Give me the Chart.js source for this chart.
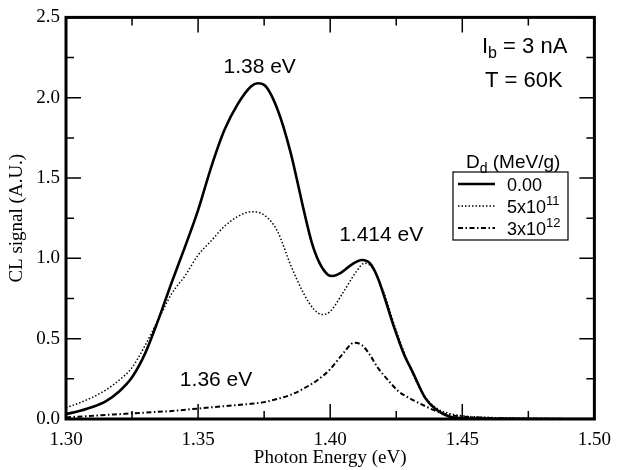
<!DOCTYPE html>
<html>
<head>
<meta charset="utf-8">
<script src="https://cdn.jsdelivr.net/npm/chart.js@4.4.1/dist/chart.umd.min.js"></script>
<style>
  html, body { margin: 0; padding: 0; background: #fff; }
  #wrap { width: 621px; height: 470px; }
</style>
</head>
<body>
<div id="wrap"><canvas id="myChart" width="621" height="470"></canvas></div>
<script>
// photon energy (eV) and CL signal for each dose
const energy0 = [1.300, 1.305, 1.310, 1.315, 1.320, 1.325, 1.330, 1.335, 1.340, 1.345, 1.350, 1.355, 1.360, 1.365, 1.370, 1.3725, 1.375, 1.380, 1.385, 1.390, 1.393, 1.396, 1.399, 1.401, 1.404, 1.408, 1.412, 1.415, 1.418, 1.424, 1.428, 1.431, 1.436, 1.440, 1.445, 1.450, 1.460, 1.500];
const signal0 = [0.03, 0.05, 0.075, 0.11, 0.17, 0.26, 0.41, 0.62, 0.85, 1.07, 1.30, 1.57, 1.80, 1.96, 2.07, 2.09, 2.08, 1.93, 1.66, 1.30, 1.10, 0.97, 0.90, 0.89, 0.91, 0.96, 0.99, 0.97, 0.88, 0.58, 0.40, 0.30, 0.13, 0.06, 0.015, 0.005, 0.002, 0.0];

const energy1 = [1.300, 1.305, 1.310, 1.315, 1.320, 1.325, 1.330, 1.335, 1.340, 1.345, 1.350, 1.355, 1.360, 1.365, 1.370, 1.375, 1.380, 1.385, 1.390, 1.394, 1.397, 1.400, 1.405, 1.410, 1.413, 1.416, 1.420, 1.425, 1.430, 1.435, 1.440, 1.445, 1.450, 1.460, 1.470, 1.500];
const signal1 = [0.07, 0.10, 0.135, 0.18, 0.24, 0.32, 0.46, 0.62, 0.78, 0.89, 1.02, 1.11, 1.20, 1.26, 1.29, 1.27, 1.17, 0.96, 0.78, 0.68, 0.65, 0.67, 0.79, 0.92, 0.97, 0.94, 0.80, 0.55, 0.33, 0.16, 0.07, 0.035, 0.02, 0.01, 0.005, 0.0];

const energy2 = [1.300, 1.310, 1.320, 1.330, 1.340, 1.350, 1.360, 1.370, 1.375, 1.380, 1.385, 1.390, 1.395, 1.400, 1.405, 1.409, 1.412, 1.415, 1.418, 1.422, 1.426, 1.430, 1.436, 1.440, 1.445, 1.450, 1.460, 1.470, 1.500];
const signal2 = [0.01, 0.02, 0.03, 0.04, 0.05, 0.065, 0.08, 0.095, 0.105, 0.125, 0.15, 0.19, 0.24, 0.31, 0.41, 0.475, 0.46, 0.40, 0.32, 0.24, 0.17, 0.13, 0.08, 0.05, 0.025, 0.015, 0.007, 0.003, 0.0];

const doseLabels = ['0.00', '5x10', '3x10'];
const doseExp = ['', '11', '12'];

const xTicks = [1.30, 1.35, 1.40, 1.45, 1.50];
const xTickLabels = ['1.30', '1.35', '1.40', '1.45', '1.50'];
const xMinor = [1.325, 1.375, 1.425, 1.475];
const yTicks = [0.0, 0.5, 1.0, 1.5, 2.0, 2.5];
const yTickLabels = ['0.0', '0.5', '1.0', '1.5', '2.0', '2.5'];
const yMinor = [0.25, 0.75, 1.25, 1.75, 2.25];

// peak labels [text, energy, signal]
const peakNotes = [['1.38 eV', 1.3733, 2.19], ['1.414 eV', 1.4193, 1.145], ['1.36 eV', 1.3568, 0.24]];

function pts(xs, ys) {
    return xs.map((x, i) => ({x: x, y: ys[i]}));
}

const serif = '"Liberation Serif", "Times New Roman", serif';
const sans = '"Liberation Sans", Arial, sans-serif';

const framePlugin = {
    id: 'frame',
    afterDatasetsDraw(chart) {
        const ctx = chart.ctx;
        const a = chart.chartArea;
        const xs = chart.scales.x, ys = chart.scales.y;
        ctx.save();
        ctx.strokeStyle = '#000';
        ctx.lineWidth = 1.5;
        ctx.beginPath();
        xTicks.forEach(v => {
            const p = xs.getPixelForValue(v);
            ctx.moveTo(p, a.bottom); ctx.lineTo(p, a.bottom - 15);
            ctx.moveTo(p, a.top); ctx.lineTo(p, a.top + 15);
        });
        xMinor.forEach(v => {
            const p = xs.getPixelForValue(v);
            ctx.moveTo(p, a.bottom); ctx.lineTo(p, a.bottom - 8);
            ctx.moveTo(p, a.top); ctx.lineTo(p, a.top + 8);
        });
        yTicks.forEach(v => {
            const p = ys.getPixelForValue(v);
            ctx.moveTo(a.left, p); ctx.lineTo(a.left + 15, p);
            ctx.moveTo(a.right, p); ctx.lineTo(a.right - 15, p);
        });
        yMinor.forEach(v => {
            const p = ys.getPixelForValue(v);
            ctx.moveTo(a.left, p); ctx.lineTo(a.left + 8, p);
            ctx.moveTo(a.right, p); ctx.lineTo(a.right - 8, p);
        });
        ctx.stroke();
        ctx.lineWidth = 3;
        ctx.strokeRect(a.left, a.top, a.right - a.left, a.bottom - a.top);

        // peak labels
        ctx.fillStyle = '#000';
        ctx.font = '21px ' + sans;
        ctx.textAlign = 'center';
        ctx.textBaseline = 'middle';
        peakNotes.forEach(n => {
            ctx.fillText(n[0], xs.getPixelForValue(n[1]), ys.getPixelForValue(n[2]));
        });

        // conditions
        ctx.textAlign = 'left';
        ctx.textBaseline = 'alphabetic';
        ctx.font = '22px ' + sans;
        let x0 = 482, y0 = 53;
        ctx.fillText('I', x0, y0);
        x0 += ctx.measureText('I').width;
        ctx.font = '16px ' + sans;
        ctx.fillText('b', x0, y0 + 5);
        x0 += ctx.measureText('b').width;
        ctx.font = '22px ' + sans;
        ctx.fillText(' = 3 nA', x0, y0);
        ctx.fillText('T = 60K', 485, 87);

        // legend
        const lx = 453, ly = 172, lw = 115, lh = 68;
        ctx.lineWidth = 1.2;
        ctx.strokeRect(lx, ly, lw, lh);
        ctx.font = '19px ' + sans;
        let tx = 466;
        ctx.fillText('D', tx, 168);
        tx += ctx.measureText('D').width;
        ctx.font = '14px ' + sans;
        ctx.fillText('d', tx, 173);
        tx += ctx.measureText('d').width;
        ctx.font = '19px ' + sans;
        ctx.fillText(' (MeV/g)', tx, 168);
        const rows = [184, 206, 228];
        chart.data.datasets.forEach((ds, i) => {
            ctx.save();
            ctx.strokeStyle = '#000';
            ctx.lineWidth = ds.borderWidth;
            ctx.setLineDash(ds.borderDash || []);
            ctx.beginPath();
            ctx.moveTo(458, rows[i]); ctx.lineTo(495, rows[i]);
            ctx.stroke();
            ctx.restore();
            ctx.font = '18px ' + sans;
            ctx.fillText(doseLabels[i], 507, rows[i] + 7);
            if (doseExp[i]) {
                const w = ctx.measureText(doseLabels[i]).width;
                ctx.font = '13px ' + sans;
                ctx.fillText(doseExp[i], 507 + w, rows[i] - 1);
            }
        });
        ctx.restore();
    }
};

function loadChart() {
    const ctx = document.getElementById('myChart');

    new Chart(ctx, {
        type: 'line',
        data: {
            datasets: [{
                label: doseLabels[0],
                data: pts(energy0, signal0),
                borderColor: '#000',
                borderWidth: 2.6,
                pointRadius: 0,
                cubicInterpolationMode: 'monotone'
            }, {
                label: doseLabels[1],
                data: pts(energy1, signal1),
                borderColor: '#000',
                borderWidth: 1.5,
                borderDash: [1.5, 2],
                pointRadius: 0,
                cubicInterpolationMode: 'monotone'
            }, {
                label: doseLabels[2],
                data: pts(energy2, signal2),
                borderColor: '#000',
                borderWidth: 2,
                borderDash: [5, 2.5, 1.5, 2.5],
                pointRadius: 0,
                cubicInterpolationMode: 'monotone'
            }]
        },
        options: {
            responsive: false,
            animation: false,
            layout: {
                padding: {left: 0, right: 20, top: 13, bottom: 0}
            },
            plugins: {
                legend: {display: false},
                tooltip: {enabled: false}
            },
            scales: {
                x: {
                    type: 'linear',
                    min: 1.30,
                    max: 1.50,
                    afterBuildTicks: s => { s.ticks = xTicks.map(v => ({value: v})); },
                    afterFit: s => { s.height = 51; },
                    ticks: {
                        callback: (v, i) => xTickLabels[i],
                        color: '#000',
                        padding: 10,
                        maxRotation: 0,
                        font: {size: 19, family: serif}
                    },
                    grid: {display: false, drawTicks: false},
                    border: {display: false},
                    title: {
                        display: true,
                        text: 'Photon Energy (eV)',
                        color: '#000',
                        padding: {top: 0, bottom: 1},
                        font: {size: 19, family: serif}
                    }
                },
                y: {
                    type: 'linear',
                    min: 0,
                    max: 2.5,
                    afterBuildTicks: s => { s.ticks = yTicks.map(v => ({value: v})); },
                    afterFit: s => { s.width = 66; },
                    ticks: {
                        callback: (v, i) => yTickLabels[i],
                        color: '#000',
                        padding: 6,
                        font: {size: 19, family: serif}
                    },
                    grid: {display: false, drawTicks: false},
                    border: {display: false},
                    title: {
                        display: true,
                        text: 'CL signal (A.U.)',
                        color: '#000',
                        padding: {top: 6, bottom: 0},
                        font: {size: 19, family: serif}
                    }
                }
            }
        },
        plugins: [framePlugin]
    });
}

loadChart();
</script>
</body>
</html>
